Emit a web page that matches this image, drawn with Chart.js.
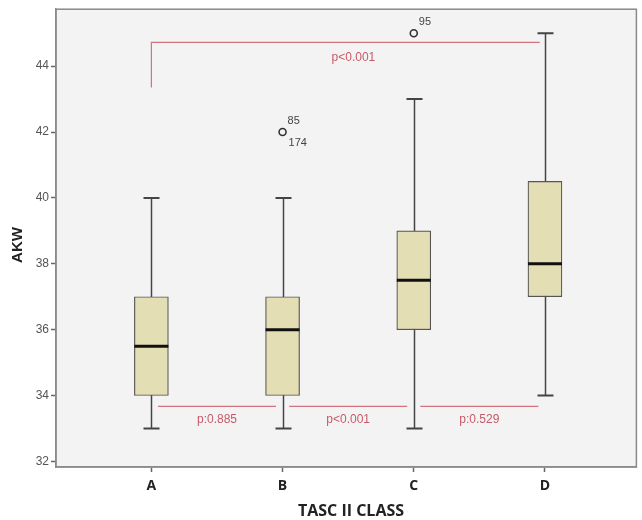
<!DOCTYPE html>
<html>
<head>
<meta charset="utf-8">
<script src="https://cdn.jsdelivr.net/npm/chart.js@4.4.1/dist/chart.umd.min.js"></script>
<style>
  html, body { margin: 0; padding: 0; background: #ffffff; }
  #wrap { width: 642px; height: 520px; position: relative; }
</style>
</head>
<body>
<div id="wrap"><canvas id="c" width="642" height="520"></canvas></div>
<script>
// AKW by TASC II class: five-number summaries per group
const categories = ['A', 'B', 'C', 'D'];
const whiskerLow = [33, 33, 33, 34];
const quartile1  = [34, 34, 36, 37];
const medians    = [35.5, 36, 37.5, 38];
const quartile3  = [37, 37, 39, 40.5];
const whiskerHigh = [40, 40, 43, 45];

// outlying cases: group index, value, case labels
const outlierGroup  = [1, 2];
const outlierValue  = [42, 45];
const outlierLabels = [['85', '174'], ['95']];

const yTicks = [32, 34, 36, 38, 40, 42, 44];

// pairwise comparisons (group indices and p-value text)
const pairFrom = [0, 1, 2];
const pairTo   = [1, 2, 3];
const pairText = ['p:0.885', 'p<0.001', 'p:0.529'];
const overallFrom = 0, overallTo = 3, overallText = 'p<0.001';

const RED_LINE = '#d2737d';
const RED_TEXT = '#c75a68';

const boxData = categories.map((c, i) => ({ x: i, y: [quartile1[i], quartile3[i]] }));
const outlierData = outlierGroup.map((g, k) => ({ x: g, y: outlierValue[k] }));

const boxPlugin = {
  id: 'boxParts',
  beforeDraw(chart) {
    const { ctx, chartArea: a } = chart;
    ctx.save();
    ctx.fillStyle = '#f3f3f3';
    ctx.fillRect(a.left, a.top, a.right - a.left, a.bottom - a.top);
    ctx.restore();
  },
  beforeDatasetsDraw(chart) {
    const { ctx, scales: { x, y } } = chart;
    ctx.save();
    ctx.strokeStyle = '#444';
    categories.forEach((c, i) => {
      const px = Math.round(x.getPixelForValue(i)) + 0.5;
      const lo = y.getPixelForValue(whiskerLow[i]);
      const hi = y.getPixelForValue(whiskerHigh[i]);
      ctx.lineWidth = 1.5;
      ctx.beginPath();
      ctx.moveTo(px, lo); ctx.lineTo(px, hi);
      ctx.stroke();
      ctx.lineWidth = 2;
      ctx.beginPath();
      ctx.moveTo(px - 8, lo); ctx.lineTo(px + 8, lo);
      ctx.moveTo(px - 8, hi); ctx.lineTo(px + 8, hi);
      ctx.stroke();
    });
    ctx.restore();
  },
  afterDatasetsDraw(chart) {
    const { ctx, scales: { x, y } } = chart;
    ctx.save();
    // medians
    ctx.strokeStyle = '#111';
    ctx.lineWidth = 3;
    categories.forEach((c, i) => {
      const px = x.getPixelForValue(i);
      const py = y.getPixelForValue(medians[i]);
      ctx.beginPath();
      ctx.moveTo(px - 17, py); ctx.lineTo(px + 17, py);
      ctx.stroke();
    });

    // outlier case labels
    ctx.fillStyle = '#444';
    ctx.font = '11px "Liberation Sans", Arial, sans-serif';
    ctx.textAlign = 'left';
    ctx.textBaseline = 'middle';
    outlierGroup.forEach((g, k) => {
      const px = x.getPixelForValue(g);
      const py = y.getPixelForValue(outlierValue[k]);
      const labs = outlierLabels[k];
      ctx.fillText(labs[0], px + 5, py - 11);
      if (labs.length > 1) ctx.fillText(labs[1], px + 6, py + 11);
    });

    // comparison lines
    ctx.strokeStyle = RED_LINE;
    ctx.lineWidth = 1.2;
    ctx.fillStyle = RED_TEXT;
    ctx.font = '12px "Liberation Sans", Arial, sans-serif';
    ctx.textAlign = 'center';
    const baseY = y.getPixelForValue(33.67);
    const textY = y.getPixelForValue(33.27);
    pairFrom.forEach((f, k) => {
      const t = pairTo[k];
      const x0 = x.getPixelForValue(f + 0.05);
      const x1 = x.getPixelForValue(t - 0.05);
      ctx.beginPath();
      ctx.moveTo(x0, baseY); ctx.lineTo(x1, baseY);
      ctx.stroke();
      ctx.fillText(pairText[k], x.getPixelForValue((f + t) / 2), textY);
    });

    // overall bracket A..D
    const bx0 = x.getPixelForValue(overallFrom);
    const bx1 = x.getPixelForValue(overallTo - 0.04);
    const byTop = y.getPixelForValue(44.72);
    const byLow = y.getPixelForValue(43.35);
    ctx.beginPath();
    ctx.moveTo(bx0, byLow); ctx.lineTo(bx0, byTop); ctx.lineTo(bx1, byTop);
    ctx.stroke();
    ctx.fillText(overallText, x.getPixelForValue(1.54), y.getPixelForValue(44.27));

    ctx.restore();
  },
  afterDraw(chart) {
    const { ctx, chartArea: a } = chart;
    ctx.save();
    // frame
    ctx.strokeStyle = '#8a8a8a';
    ctx.lineWidth = 1.5;
    ctx.strokeRect(a.left, a.top, a.right - a.left, a.bottom - a.top);
    // axis titles
    ctx.fillStyle = '#222';
    ctx.textAlign = 'center';
    ctx.textBaseline = 'middle';
    ctx.font = 'bold 15px "Liberation Sans", Arial, sans-serif';
    ctx.translate(18, 245);
    ctx.rotate(-Math.PI / 2);
    ctx.fillText('AKW', 0, 0);
    ctx.restore();
    ctx.save();
    ctx.fillStyle = '#222';
    ctx.textAlign = 'center';
    ctx.textBaseline = 'middle';
    ctx.font = 'bold 16px "Open Sans", Lato, sans-serif';
    ctx.fillText('TASC II CLASS', 351, 511);
    ctx.restore();
  }
};

new Chart(document.getElementById('c'), {
  data: {
    datasets: [
      {
        type: 'bar',
        data: boxData,
        backgroundColor: '#e3deb4',
        borderColor: '#555',
        borderWidth: 1.2,
        borderSkipped: false,
        barThickness: 34
      },
      {
        type: 'scatter',
        data: outlierData,
        pointStyle: 'circle',
        pointRadius: 3.5,
        pointBorderWidth: 1.6,
        pointBorderColor: '#333',
        pointBackgroundColor: 'rgba(0,0,0,0)'
      }
    ]
  },
  options: {
    responsive: false,
    animation: false,
    layout: { padding: { top: 9, right: 2, left: 0, bottom: 0 } },
    plugins: { legend: { display: false }, tooltip: { enabled: false } },
    scales: {
      x: {
        type: 'linear',
        offset: false,
        min: -0.727,
        max: 3.697,
        afterBuildTicks(s) { s.ticks = categories.map((c, i) => ({ value: i })); },
        afterFit(s) { s.height = 53; },
        grid: { offset: false, drawOnChartArea: false, drawTicks: true, tickLength: 5, tickColor: '#666', tickWidth: 1.5 },
        border: { display: true, color: '#8a8a8a', width: 1.5 },
        ticks: {
          padding: 6,
          color: '#222',
          font: { family: '"Open Sans", Lato, sans-serif', size: 14, weight: 'bold' },
          callback: (v) => categories[v] !== undefined ? categories[v] : ''
        }
      },
      y: {
        type: 'linear',
        min: 31.83,
        max: 45.73,
        afterBuildTicks(s) { s.ticks = yTicks.map(v => ({ value: v })); },
        afterFit(s) { s.width = 56; },
        grid: { drawOnChartArea: false, drawTicks: true, tickLength: 5, tickColor: '#666', tickWidth: 1.5 },
        border: { display: true, color: '#8a8a8a', width: 1.5 },
        ticks: {
          padding: 2,
          color: '#555',
          font: { family: '"Liberation Sans", Arial, sans-serif', size: 12 }
        }
      }
    }
  },
  plugins: [boxPlugin]
});
</script>
</body>
</html>
